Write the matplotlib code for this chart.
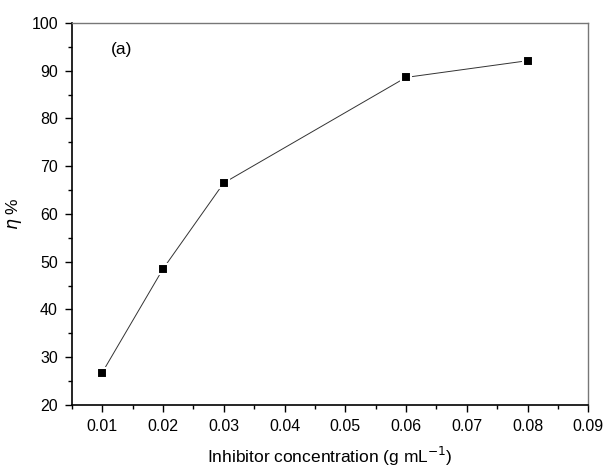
import numpy as np
import matplotlib.pyplot as plt
from matplotlib.ticker import MultipleLocator

plt.rcParams['font.family'] = ['Liberation Sans', 'DejaVu Sans']

conc = [0.01, 0.02, 0.03, 0.06, 0.08]
eta = [26.8, 48.5, 66.5, 88.6, 92.1]

fig = plt.figure(figsize=(6.04, 4.69), dpi=100)
ax = fig.add_axes([0.119, 0.1365, 0.855, 0.8145])

ax.plot(conc, eta, color='#333333', lw=0.7, marker='s', ms=7,
        mfc='black', mec='white', mew=1.5)

ax.set_xlim(0.005, 0.09)
ax.set_ylim(20, 100)
ax.xaxis.set_minor_locator(MultipleLocator(0.005))
ax.yaxis.set_major_locator(MultipleLocator(10))
ax.yaxis.set_minor_locator(MultipleLocator(5))
ax.set_xticks(np.arange(0.01, 0.0901, 0.01))
ax.set_xticklabels(['0.01', '0.02', '0.03', '0.04', '0.05', '0.06', '0.07', '0.08', '0.09'])

ax.tick_params(which='both', direction='out', top=False, right=False, labelsize=11.5)
ax.tick_params(which='major', length=5, width=1, pad=5)
ax.tick_params(which='minor', length=3, width=1)
for s in ['left', 'bottom']:
    ax.spines[s].set_color('black')
    ax.spines[s].set_linewidth(1.2)
for s in ['top', 'right']:
    ax.spines[s].set_color('#777777')
    ax.spines[s].set_linewidth(1.0)

ax.set_xlabel('Inhibitor concentration (g mL$^{-1}$)', fontsize=12.5)
ax.set_ylabel(r'$\eta$ %', fontsize=12.5)
ax.xaxis.set_label_coords(0.5, -0.105)
ax.yaxis.set_label_coords(-0.092, 0.5)
ax.text(0.075, 0.92, '(a)', transform=ax.transAxes, fontsize=12.5)

fig.savefig('out.png', dpi=100, facecolor='w')
